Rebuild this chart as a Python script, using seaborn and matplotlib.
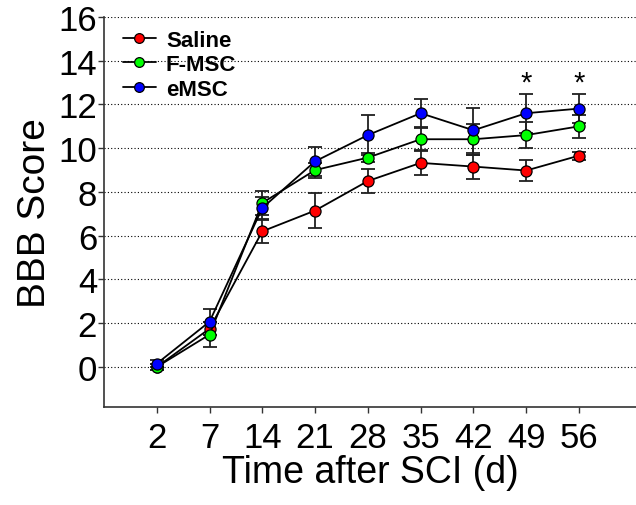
import matplotlib
matplotlib.use("Agg")
import matplotlib.pyplot as plt
import seaborn as sns
import pandas as pd
import numpy as np
from matplotlib.lines import Line2D

days = ["2", "7", "14", "21", "28", "35", "42", "49", "56"]
groups = ["Saline", "F-MSC", "eMSC"]
saline = [0.0, 1.75, 6.2, 7.15, 8.5, 9.33, 9.16, 8.98, 9.66]
fmsc = [0.0, 1.48, 7.5, 9.0, 9.57, 10.41, 10.41, 10.6, 11.0]
emsc = [0.15, 2.07, 7.27, 9.4, 10.6, 11.6, 10.82, 11.6, 11.81]
saline_err = [0.15, 0.3, 0.52, 0.79, 0.55, 0.55, 0.55, 0.46, 0.18]
fmsc_err = [0.12, 0.58, 0.56, 0.34, 0.2, 0.5, 0.7, 0.61, 0.53]
emsc_err = [0.15, 0.6, 0.5, 0.67, 0.93, 0.65, 1.04, 0.9, 0.65]
colors = ["#ff0000", "#00ff00", "#0000ff"]
star_days = ["49", "56"]
star_y = 13.0

sns.set_style("ticks")
plt.rcParams["font.family"] = ["Liberation Sans", "DejaVu Sans"]
plt.rcParams["text.color"] = "black"
plt.rcParams["axes.labelcolor"] = "black"
plt.rcParams["xtick.color"] = "black"
plt.rcParams["ytick.color"] = "black"

fig = plt.figure(figsize=(6.36, 5.06), dpi=100)
ax = fig.add_axes([0.1635, 0.1937, 0.8365, 0.7708])

pos = list(range(len(days)))
rows = []
for g, vals, errs in zip(groups, [saline, fmsc, emsc], [saline_err, fmsc_err, emsc_err]):
    for p, v, e in zip(pos, vals, errs):
        rows.append({"pos": p, "score": v, "err": e, "group": g})
df = pd.DataFrame(rows)

for y in range(0, 17, 2):
    ax.axhline(y, color="#b4b4b4", lw=0.8, ls=(0, (1, 2)), zorder=0)

for g, c in zip(groups, colors):
    sub = df[df.group == g]
    ax.errorbar(sub["pos"], sub["score"], yerr=sub["err"], fmt="none",
                ecolor="#202020", elinewidth=1.3, capsize=5, capthick=1.3, zorder=2)

sns.lineplot(data=df, x="pos", y="score", hue="group", hue_order=groups,
             palette=dict(zip(groups, colors)), marker="o", markersize=8,
             markeredgecolor="black", markeredgewidth=0.9, linewidth=1.3,
             ax=ax, legend=False, zorder=3)
for line in ax.get_lines():
    line.set_color("black")
for line, c in zip(ax.get_lines()[-3:], colors):
    line.set_markerfacecolor(c)

for d in star_days:
    ax.text(days.index(d), star_y, "*", ha="center", va="center", fontsize=21)

ax.set_xlim(-1, 9.08)
ax.set_ylim(-1.83, 16)
ax.set_xticks(pos)
ax.set_xticklabels(days)
ax.set_yticks(range(0, 17, 2))
ax.tick_params(axis="both", labelsize=25, length=4, width=1, color="#333333")
ax.tick_params(axis="x", pad=6)
ax.tick_params(axis="y", pad=1)
ax.set_xlabel("Time after SCI (d)", fontsize=27, labelpad=0)
ax.set_ylabel("BBB Score", fontsize=28, labelpad=4)
for s in ["top", "right"]:
    ax.spines[s].set_visible(False)
for s in ["left", "bottom"]:
    ax.spines[s].set_linewidth(1.2)
    ax.spines[s].set_color("#333333")

handles = [Line2D([0], [0], color="black", lw=1.3, marker="o", markersize=7,
                  markerfacecolor=c, markeredgecolor="black", markeredgewidth=0.9)
           for c in colors]
leg = ax.legend(handles, groups, loc="upper left", bbox_to_anchor=(0.035, 0.967),
                frameon=False, prop={"weight": "bold", "size": 16},
                handlelength=1.5, handletextpad=0.45, labelspacing=0.15,
                borderaxespad=0.0, borderpad=0.0)

fig.savefig("out.png", dpi=100)
